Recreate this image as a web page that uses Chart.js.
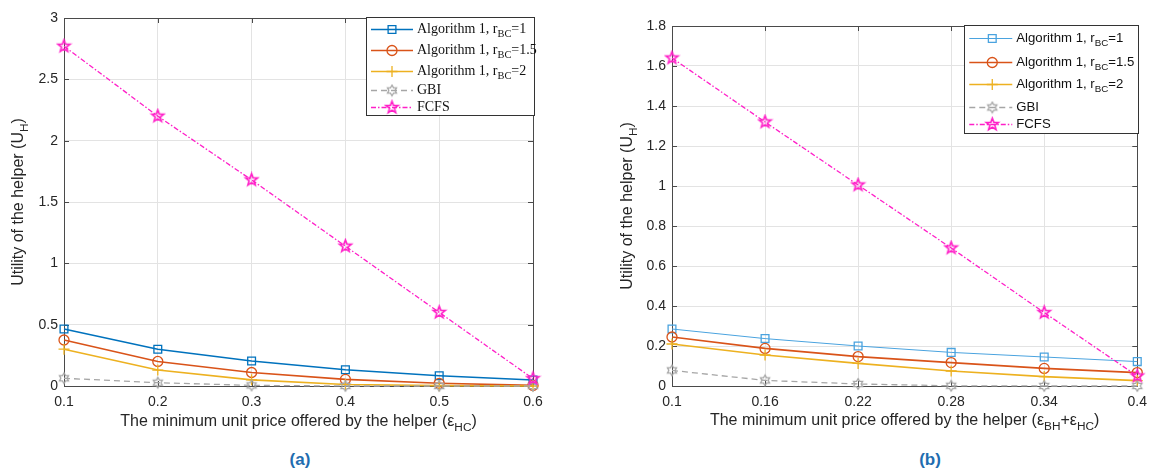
<!DOCTYPE html>
<html><head><meta charset="utf-8">
<script src="https://cdn.jsdelivr.net/npm/chart.js@4/dist/chart.umd.min.js"></script>
<style>
body{margin:0;background:#fff;width:1155px;height:470px;overflow:hidden;position:relative;font-family:"Liberation Sans",Arial,sans-serif}
#wa{position:absolute;left:0;top:0;width:575px;height:445px}
#wb{position:absolute;left:575px;top:0;width:580px;height:445px}
.cap{position:absolute;top:450px;font:bold 17px "Liberation Sans",Arial,sans-serif;color:#1f6db0;transform:translateX(-50%)}
</style></head><body>
<div id="wa"><canvas id="ca"></canvas></div>
<div id="wb"><canvas id="cb"></canvas></div>
<div class="cap" style="left:300px">(a)</div>
<div class="cap" style="left:930px">(b)</div>
<script>
// ---------- data: panel (a) ----------
const xA = [0.1, 0.2, 0.3, 0.4, 0.5, 0.6];
const yTicksA = [0, 0.5, 1, 1.5, 2, 2.5, 3];
const alg1A = [0.465, 0.30, 0.204, 0.133, 0.084, 0.049];
const alg15A = [0.375, 0.20, 0.11, 0.054, 0.022, 0.005];
const alg2A = [0.30, 0.13, 0.05, 0.012, 0.003, 0.0];
const gbiA = [0.063, 0.027, 0.005, 0.0, 0.0, 0.0];
const fcfsA = [2.77, 2.20, 1.68, 1.14, 0.60, 0.06];

// ---------- data: panel (b) ----------
const xB = [0.1, 0.16, 0.22, 0.28, 0.34, 0.4];
const yTicksB = [0, 0.2, 0.4, 0.6, 0.8, 1, 1.2, 1.4, 1.6, 1.8];
const alg1B = [0.285, 0.237, 0.20, 0.168, 0.145, 0.122];
const alg15B = [0.245, 0.188, 0.147, 0.117, 0.088, 0.067];
const alg2B = [0.21, 0.155, 0.113, 0.075, 0.047, 0.027];
const gbiB = [0.078, 0.028, 0.01, 0.001, 0.0, 0.0];
const fcfsB = [1.64, 1.32, 1.005, 0.69, 0.367, 0.05];

const seriesNames = ['Algorithm 1, r_{BC}=1', 'Algorithm 1, r_{BC}=1.5', 'Algorithm 1, r_{BC}=2', 'GBI', 'FCFS'];
const yTitle = 'Utility of the helper (U_{H})';
const xTitleA = 'The minimum unit price offered by the helper (\u03B5_{HC})';
const xTitleB = 'The minimum unit price offered by the helper (\u03B5_{BH}+\u03B5_{HC})';

// ---------- markers ----------
function starCanvas(n, color, R, r, lw) {
  const s = Math.ceil(2 * R + lw + 2);
  const c = document.createElement('canvas');
  c.width = c.height = s;
  const g = c.getContext('2d');
  g.strokeStyle = color; g.lineWidth = lw; g.lineJoin = 'miter';
  g.beginPath();
  for (let i = 0; i < 2 * n; i++) {
    const rad = i % 2 ? r : R;
    const a = -Math.PI / 2 + i * Math.PI / n;
    const px = s / 2 + rad * Math.cos(a), py = s / 2 + rad * Math.sin(a);
    i ? g.lineTo(px, py) : g.moveTo(px, py);
  }
  g.closePath(); g.stroke();
  return c;
}
const pentagram = starCanvas(5, '#ff1fc8', 6.3, 2.6, 1.6);
const hexagram = starCanvas(6, '#a6a6a6', 5.3, 3.1, 1.3);

// ---------- rich text ----------
function parseRich(s) {
  const parts = []; const re = /_\{([^}]*)\}/g; let last = 0, m;
  while ((m = re.exec(s))) {
    if (m.index > last) parts.push({ t: s.slice(last, m.index), sub: false });
    parts.push({ t: m[1], sub: true }); last = re.lastIndex;
  }
  if (last < s.length) parts.push({ t: s.slice(last), sub: false });
  return parts;
}
function drawRich(ctx, s, x, y, size, family, color, align) {
  const parts = parseRich(s);
  const f = p => `${p.sub ? size * 0.74 : size}px ${family}`;
  let w = 0;
  parts.forEach(p => { ctx.font = f(p); p.w = ctx.measureText(p.t).width; w += p.w; });
  let cx = align === 'center' ? x - w / 2 : x;
  ctx.fillStyle = color; ctx.textBaseline = 'middle'; ctx.textAlign = 'left';
  parts.forEach(p => { ctx.font = f(p); ctx.fillText(p.t, cx, y + (p.sub ? size * 0.36 : 0)); cx += p.w; });
}

// ---------- plugins ----------
const framePlugin = {
  id: 'frame',
  beforeDatasetsDraw(chart) {
    const { ctx, chartArea: a } = chart;
    const xs = chart.scales.x, ys = chart.scales.y;
    ctx.save();
    ctx.strokeStyle = '#4a4a4a'; ctx.lineWidth = 1;
    ctx.beginPath();
    ctx.rect(Math.round(a.left) + 0.5, Math.round(a.top) + 0.5, Math.round(a.right - a.left), Math.round(a.bottom - a.top));
    xs.ticks.forEach(t => {
      const px = Math.round(xs.getPixelForValue(t.value)) + 0.5;
      ctx.moveTo(px, a.bottom); ctx.lineTo(px, a.bottom - 5);
      ctx.moveTo(px, a.top); ctx.lineTo(px, a.top + 5);
    });
    ys.ticks.forEach(t => {
      const py = Math.round(ys.getPixelForValue(t.value)) + 0.5;
      ctx.moveTo(a.left, py); ctx.lineTo(a.left + 5, py);
      ctx.moveTo(a.right, py); ctx.lineTo(a.right - 5, py);
    });
    ctx.stroke();
    ctx.restore();
  }
};
const textPlugin = {
  id: 'richTitles',
  afterDraw(chart, args, o) {
    const { ctx, chartArea: a } = chart;
    ctx.save();
    drawRich(ctx, o.xTitle, (a.left + a.right) / 2, o.xTitleY, o.size, '"Liberation Sans", Arial, sans-serif', '#262626', 'center');
    ctx.translate(o.yTitleX, (a.top + a.bottom) / 2);
    ctx.rotate(-Math.PI / 2);
    drawRich(ctx, o.yTitle, 0, 0, o.size, '"Liberation Sans", Arial, sans-serif', '#262626', 'center');
    ctx.restore();
  }
};
const legendPlugin = {
  id: 'richLegend',
  afterDraw(chart, args, o) {
    const { ctx, chartArea: a } = chart;
    const L = a.right + 1 - o.w, T = o.top;
    ctx.save();
    ctx.fillStyle = '#fff'; ctx.fillRect(L, T, o.w, o.h);
    ctx.strokeStyle = '#333'; ctx.lineWidth = 1;
    ctx.strokeRect(Math.round(L) + 0.5, Math.round(T) + 0.5, o.w, o.h);
    chart.data.datasets.forEach((ds, i) => {
      const y = Math.round(T + o.rows[i]) + 0.5;
      ctx.save();
      ctx.strokeStyle = ds.borderColor; ctx.lineWidth = ds.borderWidth;
      ctx.setLineDash(ds.borderDash || []);
      ctx.beginPath(); ctx.moveTo(L + o.lineX0, y); ctx.lineTo(L + o.lineX1, y); ctx.stroke();
      ctx.setLineDash([]);
      ctx.lineWidth = ds.pointBorderWidth;
      ctx.strokeStyle = ds.borderColor; ctx.fillStyle = 'rgba(0,0,0,0)';
      Chart.helpers.drawPoint(ctx, { pointStyle: ds.pointStyle, radius: ds.pointRadius, rotation: 0, borderWidth: ds.pointBorderWidth }, L + o.markX, y);
      ctx.restore();
      drawRich(ctx, ds.label, L + o.textX, y, o.fontSize, o.family, '#111', 'left');
    });
    ctx.restore();
  }
};

function makeDatasets(xs, ys, colors) {
  const styles = [
    { color: colors[0], ps: 'rect', r: 5.5, bw: colors[5] || 1.6, dash: [] },
    { color: colors[1], ps: 'circle', r: 5, bw: 1.6, dash: [] },
    { color: colors[2], ps: 'cross', r: 5.5, bw: 1.6, dash: [] },
    { color: colors[3], ps: hexagram, r: 5, bw: 1.3, dash: [6, 4] },
    { color: colors[4], ps: pentagram, r: 7, bw: 1.3, dash: [5, 2, 1.5, 2] }
  ];
  return ys.map((arr, i) => ({
    label: seriesNames[i],
    data: arr.map((v, k) => ({ x: xs[k], y: v })),
    borderColor: styles[i].color,
    borderWidth: styles[i].bw,
    borderDash: styles[i].dash,
    pointStyle: styles[i].ps,
    pointRadius: styles[i].r,
    pointBorderWidth: 1.3,
    pointBorderColor: styles[i].color,
    pointBackgroundColor: 'rgba(0,0,0,0)',
    fill: false, tension: 0, clip: false,
    order: 4 - i
  }));
}

function scaleOpts(ticksArr, min, max, isX, fitSize) {
  return {
    type: 'linear', min, max,
    afterBuildTicks(s) { s.ticks = ticksArr.map(v => ({ value: v })); },
    afterFit(s) { if (isX) s.height = fitSize; else s.width = fitSize; },
    grid: { color: '#e3e3e3', lineWidth: 1, drawTicks: false },
    border: { display: false },
    ticks: {
      color: '#262626', font: { size: 14, family: '"Liberation Sans", Arial, sans-serif' },
      padding: isX ? 8 : 6, autoSkip: false, maxRotation: 0,
      callback: v => String(v)
    }
  };
}

function makeChart(id, xs, ys, colors, xTicks, yTicks, yMax, pad, yAxisW, legendOpts, titles) {
  return new Chart(document.getElementById(id), {
    type: 'line',
    data: { datasets: makeDatasets(xs, ys, colors) },
    options: {
      responsive: true, maintainAspectRatio: false, animation: false,
      layout: { padding: pad },
      plugins: { legend: { display: false }, tooltip: { enabled: false }, richLegend: legendOpts, richTitles: titles },
      scales: {
        x: scaleOpts(xTicks, xTicks[0], xTicks[xTicks.length - 1], true, 59),
        y: scaleOpts(yTicks, 0, yMax, false, yAxisW)
      }
    },
    plugins: [framePlugin, legendPlugin, textPlugin]
  });
}

makeChart('ca', xA, [alg1A, alg15A, alg2A, gbiA, fcfsA],
  ['#0072bd', '#d95319', '#edb120', '#a6a6a6', '#ff1fc8'],
  xA, yTicksA, 3, { top: 18, right: 42, left: 0, bottom: 0 }, 64,
  { w: 168, h: 98, top: 17, rows: [12, 33, 54, 73, 90], lineX0: 5, lineX1: 47, markX: 26, textX: 51, fontSize: 14, family: '"Liberation Serif", "Times New Roman", serif' },
  { xTitle: xTitleA, yTitle: yTitle, xTitleY: 422, yTitleX: 19, size: 16 });

makeChart('cb', xB, [alg1B, alg15B, alg2B, gbiB, fcfsB],
  ['#4aa3df', '#d95319', '#edb120', '#a6a6a6', '#ff1fc8', 1],
  xB, yTicksB, 1.8, { top: 26, right: 14, left: 0, bottom: 0 }, 97,
  { w: 174, h: 108, top: 25, rows: [13, 37, 59, 82, 99], lineX0: 5, lineX1: 48, markX: 28, textX: 52, fontSize: 13.2, family: '"Liberation Sans", Arial, sans-serif' },
  { xTitle: xTitleB, yTitle: yTitle, xTitleY: 421, yTitleX: 53, size: 16 });
</script>
</body></html>
